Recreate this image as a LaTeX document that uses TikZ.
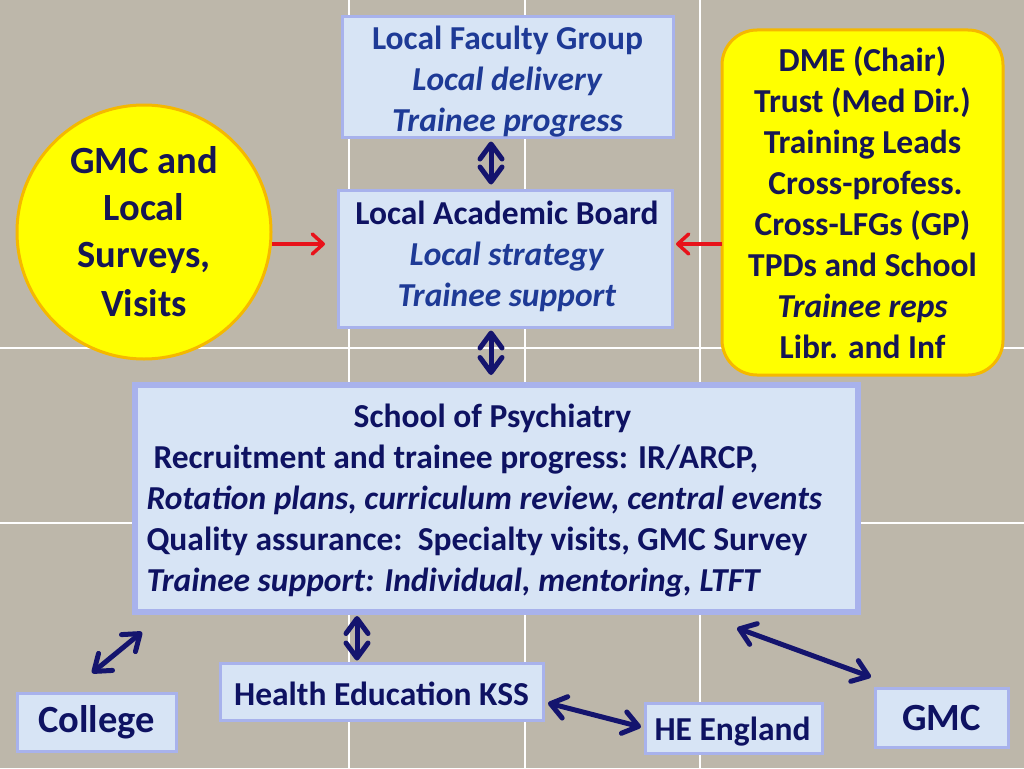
\documentclass[tikz,border=0pt]{standalone}
\usepackage{fontspec}
\setmainfont{Carlito}
\usetikzlibrary{arrows.meta,calc}
\definecolor{bgc}{RGB}{189,183,170}
\definecolor{boxfill}{RGB}{215,228,245}
\definecolor{boxline}{RGB}{168,178,236}
\definecolor{navyt}{RGB}{14,18,98}
\definecolor{bluet}{RGB}{30,58,150}
\definecolor{yel}{RGB}{255,255,0}
\definecolor{yelline}{RGB}{245,184,0}
\definecolor{yeltext}{RGB}{22,22,84}
\definecolor{redc}{RGB}{232,18,26}
\definecolor{navyarr}{RGB}{20,20,110}
\tikzset{
  box/.style={draw=boxline, line width=3pt, fill=boxfill, inner sep=0pt, align=center},
  boxtext/.style={inner sep=0pt, align=center},
  mainfont/.style={font=\fontsize{33.5}{41}\selectfont\bfseries},
  bigfont/.style={font=\fontsize{38.5}{47}\selectfont\bfseries},
  navyline/.style={draw=navyarr, line width=5pt, {Straight Barb[round,length=15pt,width=22pt]}-{Straight Barb[round,length=15pt,width=22pt]}},
  redline/.style={draw=redc, line width=3.5pt, -{Straight Barb[round,length=11pt,width=20pt]}},
  grid line/.style={draw=white, line width=1.5pt}
}
\begin{document}
\begin{tikzpicture}[x=1pt,y=-1pt]
\useasboundingbox (0,0) rectangle (1024,768);
\fill[bgc] (0,0) rectangle (1024,768);
% background grid
\draw[grid line] (349,0) -- (349,768);
\draw[grid line] (525,0) -- (525,768);
\draw[grid line] (700,0) -- (700,768);
\draw[grid line] (0,348) -- (1024,348);
\draw[grid line] (0,523) -- (1024,523);

% top boxes
\node[box, minimum width=331pt, minimum height=120pt] (lfg) at (507.5,77) {};
\node[boxtext, mainfont, text=bluet] (lfgtext) at ([yshift=-5pt]lfg.center)
  {Local Faculty Group\\ \textit{Local delivery}\\ \textit{Trainee progress}};
\node[box, minimum width=334pt, minimum height=137pt] (lab) at (505,258.5) {};
\node[boxtext, mainfont, text=bluet] (labtext) at ([xshift=2pt,yshift=2.5pt]lab.center)
  {\textcolor{navyt}{Local Academic Board}\\ \textit{Local strategy}\\ \textit{Trainee support}};

% circle
\node[circle, draw=yelline, line width=3pt, fill=yel, minimum size=254pt, inner sep=0pt,
      bigfont, text=yeltext, align=center] (circ) at (144,232)
  {GMC and\\ Local\\ Surveys,\\ \raisebox{-2pt}{Visits}};

% yellow rounded box
\node[draw=yelline, line width=3pt, fill=yel, rounded corners=35pt, minimum width=281pt,
      minimum height=345pt, inner sep=0pt, mainfont, text=yeltext, align=center] (dme) at (862.5,202.5)
  {DME (Chair)\\ Trust (Med Dir.)\\ Training Leads\\ \hspace{6pt}Cross-profess.\\ Cross-LFGs (GP)\\ TPDs and School\\ \textit{Trainee reps}\\ Libr. and Inf};

% school box
\node[box, line width=6pt, minimum width=723pt, minimum height=227pt] (school) at (496.5,498.5) {};
\node[boxtext, mainfont, text=navyt, text width=700pt, align=flush left] (schooltext)
  at ([yshift=-2.5pt]school.center)
  {\makebox[\linewidth][c]{\hspace{-8pt}School of Psychiatry}\\
   \hspace{7pt}Recruitment and trainee progress: IR/ARCP,\\
   \textit{Rotation plans, curriculum review, central events}\\
   Quality assurance:\ \ Specialty visits, GMC Survey\\
   \textit{Trainee support: Individual, mentoring, LTFT}};

% bottom boxes
\node[box, bigfont, text=navyt, minimum width=159pt, minimum height=58pt] (college) at (96.5,722) {College};
\node[box, minimum width=323pt, minimum height=57pt] (hekss) at (381.5,691.5) {};
\node[boxtext, mainfont, text=navyt] (heksstext) at ([yshift=-2pt]hekss.center) {Health Education KSS};
\node[box, minimum width=177pt, minimum height=50pt] (hee) at (733.5,728) {};
\node[boxtext, mainfont, text=navyt] (heetext) at ([xshift=-1pt,yshift=-3.5pt]hee.center) {HE England};
\node[box, bigfont, text=navyt, minimum width=133pt, minimum height=59pt] (gmc) at (941.5,717.5) {GMC};

% connector coordinates
\coordinate (xa) at (491,0);
\coordinate (xb) at (357,0);
\draw[navyline] ([yshift=-3pt]lfg.south -| xa) -- ([yshift=4pt]lab.north -| xa);
\draw[navyline] ([yshift=-2pt]lab.south -| xa) -- ([yshift=7pt]school.north -| xa);
\draw[navyline] ([yshift=-1pt]school.south -| xb) -- ([yshift=1pt]hekss.north -| xb);

\coordinate (colA) at (142,632);
\coordinate (colB) at (92,673);
\draw[navyline] (colA) -- (colB);
\coordinate (heA) at (548,703);
\coordinate (heB) at (641,727);
\draw[navyline] (heA) -- (heB);
\coordinate (gmA) at (737,628);
\coordinate (gmB) at (871,677);
\draw[navyline] (gmA) -- (gmB);

% red arrows
\coordinate (rA) at (272,244);
\coordinate (rB) at (325,244);
\draw[redline] (rA) -- (rB);
\coordinate (rC) at (722,244);
\coordinate (rD) at (676,244);
\draw[redline] (rC) -- (rD);
\end{tikzpicture}
\end{document}
